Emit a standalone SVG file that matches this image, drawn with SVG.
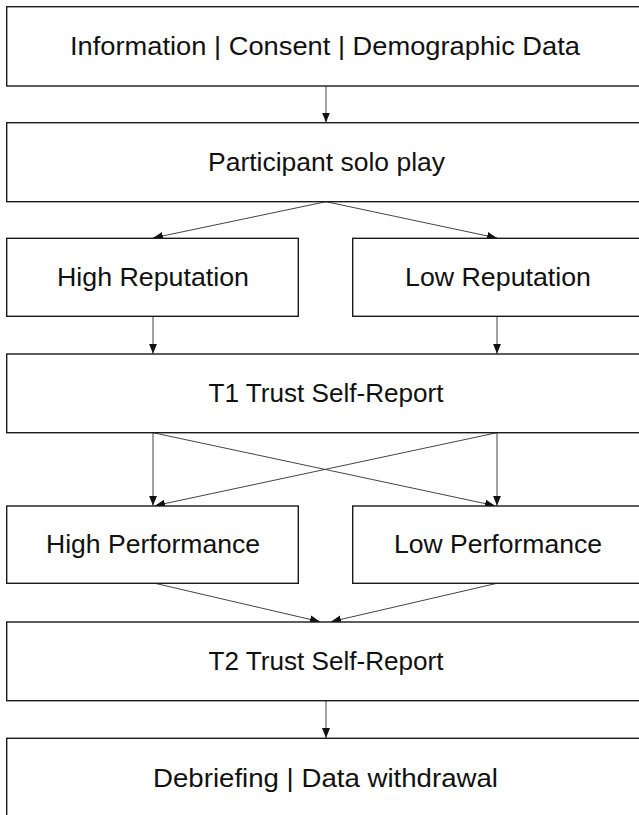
<svg xmlns="http://www.w3.org/2000/svg" width="639" height="815" viewBox="0 0 639 815">
<style>
.box{fill:#fff;stroke:#1a1a1a;stroke-width:1.4}
.lbl{font-family:"Liberation Sans",Arial,sans-serif;font-size:25px;fill:#111;text-anchor:middle}
.con{fill:none;stroke:#444;stroke-width:1;marker-end:url(#ah)}
</style>
<defs>
<marker id="ah" markerUnits="userSpaceOnUse" markerWidth="10" markerHeight="10" viewBox="0 0 10 10" refX="10" refY="5" orient="auto">
<path d="M0,1 L10,5 L0,9 Z" fill="#111"/>
</marker>
</defs>
<rect width="639" height="815" fill="#fff"/>
<g id="connectors">
<line class="con" x1="326" y1="86" x2="326" y2="122.5"/>
<line class="con" x1="326" y1="201.7" x2="153" y2="238"/>
<line class="con" x1="326" y1="201.7" x2="497" y2="238"/>
<line class="con" x1="153" y1="316.3" x2="153" y2="353.7"/>
<line class="con" x1="497" y1="316.3" x2="497" y2="353.7"/>
<line class="con" x1="153" y1="432.7" x2="153" y2="505.7"/>
<line class="con" x1="497" y1="432.7" x2="497" y2="505.7"/>
<line class="con" x1="153" y1="432.7" x2="495" y2="505.7"/>
<line class="con" x1="497" y1="432.7" x2="155" y2="505.7"/>
<line class="con" x1="155" y1="583.3" x2="320" y2="621.7"/>
<line class="con" x1="497" y1="583.3" x2="331" y2="621.7"/>
<line class="con" x1="326" y1="700.7" x2="326" y2="738"/>
</g>
<g id="n1"><rect class="box" x="6.7" y="6.7" width="640" height="79.3"/><text class="lbl" x="325" y="55" textLength="510" lengthAdjust="spacingAndGlyphs">Information | Consent | Demographic Data</text></g>
<g id="n2"><rect class="box" x="6.7" y="122.7" width="640" height="79"/><text class="lbl" x="326.5" y="171" textLength="237" lengthAdjust="spacingAndGlyphs">Participant solo play</text></g>
<g id="n3"><rect class="box" x="6.7" y="238.3" width="291.6" height="78"/><text class="lbl" x="153" y="286" textLength="192" lengthAdjust="spacingAndGlyphs">High Reputation</text></g>
<g id="n4"><rect class="box" x="352.7" y="238.3" width="300" height="78"/><text class="lbl" x="498" y="286" textLength="186" lengthAdjust="spacingAndGlyphs">Low Reputation</text></g>
<g id="n5"><rect class="box" x="6.7" y="354" width="640" height="78.7"/><text class="lbl" x="326" y="402" textLength="235" lengthAdjust="spacingAndGlyphs">T1 Trust Self-Report</text></g>
<g id="n6"><rect class="box" x="6.7" y="506" width="291.6" height="77.3"/><text class="lbl" x="153" y="553.4" textLength="214" lengthAdjust="spacingAndGlyphs">High Performance</text></g>
<g id="n7"><rect class="box" x="352.7" y="506" width="300" height="77.3"/><text class="lbl" x="498" y="553.4" textLength="208" lengthAdjust="spacingAndGlyphs">Low Performance</text></g>
<g id="n8"><rect class="box" x="6.7" y="622" width="640" height="78.7"/><text class="lbl" x="326" y="670" textLength="235" lengthAdjust="spacingAndGlyphs">T2 Trust Self-Report</text></g>
<g id="n9"><rect class="box" x="6.7" y="738.3" width="640" height="100"/><text class="lbl" x="325.5" y="786.7" textLength="345" lengthAdjust="spacingAndGlyphs">Debriefing | Data withdrawal</text></g>
</svg>
